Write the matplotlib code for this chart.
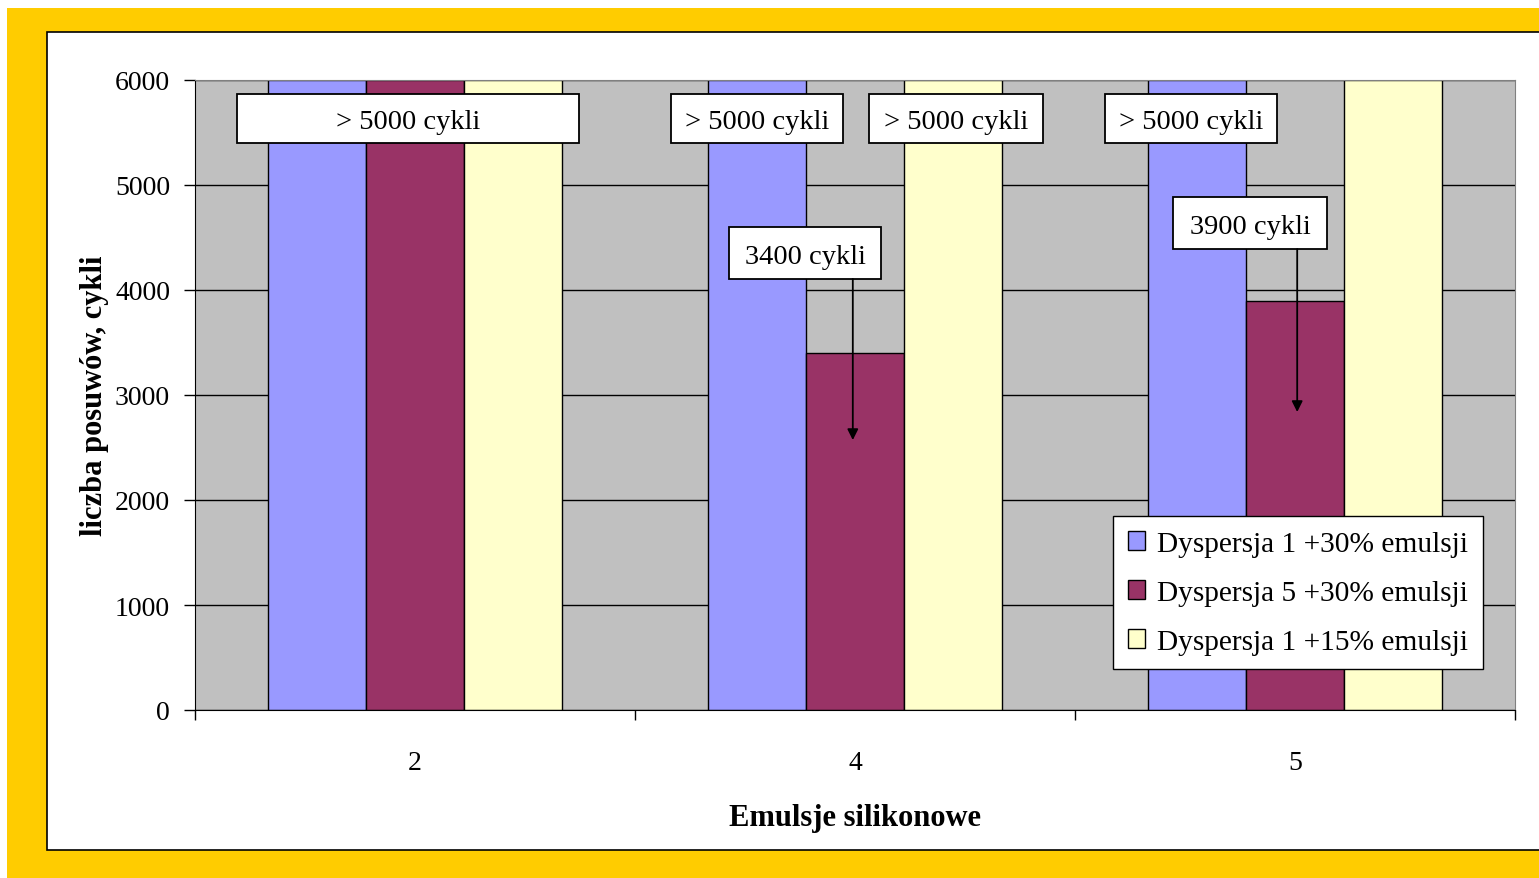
import matplotlib
matplotlib.use("Agg")
import matplotlib.pyplot as plt
from matplotlib.patches import Rectangle
import numpy as np

plt.rcParams["font.family"] = ["Liberation Serif", "DejaVu Serif"]

categories = ["2", "4", "5"]
series_labels = [
    "Dyspersja 1 +30% emulsji",
    "Dyspersja 5 +30% emulsji",
    "Dyspersja 1 +15% emulsji",
]
disp1_30 = [6000, 6000, 6000]
disp5_30 = [6000, 3400, 3900]
disp1_15 = [6000, 6000, 6000]
series_colors = ["#9999FF", "#993366", "#FFFFCC"]

yticks = [0, 1000, 2000, 3000, 4000, 5000, 6000]

fig = plt.figure(figsize=(15.39, 8.79), dpi=100)
fig.patch.set_facecolor("white")

# yellow frame with the white chart panel inside it
fig.patches.append(Rectangle((7 / 1539, 0), 1.0, 1 - 9 / 879,
                             transform=fig.transFigure, facecolor="#FFCC00",
                             edgecolor="none", zorder=0))
fig.patches.append(Rectangle((47 / 1539, 1 - 851 / 879), 1.0, (851 - 33) / 879,
                             transform=fig.transFigure, facecolor="white",
                             edgecolor="black", linewidth=1.2, zorder=0.5))

ax = fig.add_axes([195 / 1539, 1 - 711 / 879, 1320 / 1539, 630 / 879])
ax.set_facecolor("#C0C0C0")
ax.set_zorder(1)

x = np.arange(len(categories))
w = 0.2227
for i, (vals, lab, col) in enumerate(zip([disp1_30, disp5_30, disp1_15],
                                          series_labels, series_colors)):
    ax.bar(x + (i - 1) * w, vals, width=w, color=col, edgecolor="black",
           linewidth=1.0, label=lab, zorder=2)

ax.set_xlim(-0.5, len(categories) - 0.5)
ax.set_ylim(0, 6000)
ax.set_yticks(yticks)
ax.yaxis.grid(True, color="black", linewidth=1.0, zorder=1)
ax.set_axisbelow(True)
ax.tick_params(axis="y", labelsize=20, length=8, width=1, pad=10)

# boundary ticks on the x axis, labels in the middle of each group
ax.set_xticks(np.arange(len(categories) + 1) - 0.5)
ax.set_xticklabels([])
ax.tick_params(axis="x", which="major", length=7, width=1)
ax.set_xticks(x, minor=True)
ax.set_xticklabels(categories, minor=True)
ax.tick_params(axis="x", which="minor", length=0, labelsize=20, pad=29)

for s in ["top", "right"]:
    ax.spines[s].set_color("#808080")
for s in ["left", "bottom"]:
    ax.spines[s].set_color("black")

ax.set_xlabel("Emulsje silikonowe", fontsize=22, fontweight="bold", labelpad=20)
ax.set_ylabel("liczba posuwów, cykli", fontsize=22, fontweight="bold", labelpad=4)


def label_box(x0, x1, y0, y1, text):
    ax.add_patch(Rectangle((x0, y0), x1 - x0, y1 - y0, facecolor="white",
                           edgecolor="black", linewidth=1.3, zorder=4))
    ax.text((x0 + x1) / 2, (y0 + y1) / 2 - 30, text, ha="center", va="center",
            fontsize=20.5, zorder=5)


label_box(-0.405, 0.373, 5400, 5867, "> 5000 cykli")
label_box(0.582, 0.973, 5400, 5867, "> 5000 cykli")
label_box(1.032, 1.427, 5400, 5867, "> 5000 cykli")
label_box(1.568, 1.959, 5400, 5867, "> 5000 cykli")
label_box(0.714, 1.059, 4105, 4600, f"{disp5_30[1]} cykli")
label_box(1.723, 2.073, 4390, 4886, f"{disp5_30[2]} cykli")

# arrows pointing from the labels down into the shorter bars
for xa, y_from, y_to in [(0.995, 4105, 2571), (2.005, 4390, 2838)]:
    ax.annotate("", xy=(xa, y_to), xytext=(xa, y_from),
                arrowprops=dict(arrowstyle="-|>", color="black", lw=1.3,
                                mutation_scale=16, shrinkA=0, shrinkB=0),
                zorder=4)

leg = ax.legend(loc="upper left", bbox_to_anchor=(0.6955, 0.308),
                borderaxespad=0, fontsize=21.2, fancybox=False, framealpha=1,
                edgecolor="black", handlelength=0.6, handleheight=0.6,
                handletextpad=0.4, labelspacing=0.78, borderpad=0.5)
leg.get_frame().set_linewidth(1.0)
leg.set_zorder(6)

fig.savefig("out.png", dpi=100)
